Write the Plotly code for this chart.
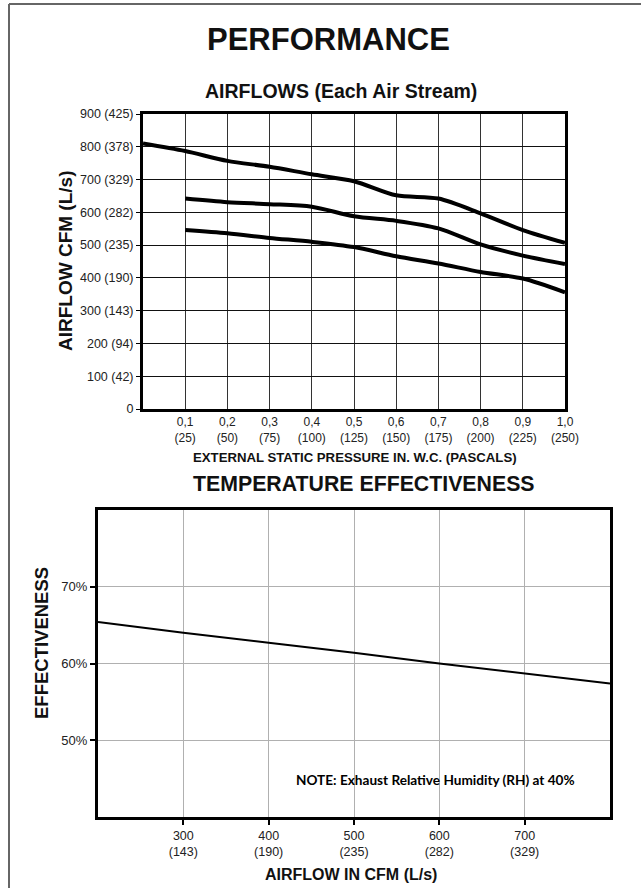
import plotly.graph_objects as go

# ---------------- data ----------------
pressure_all = [0.0, 0.1, 0.2, 0.3, 0.4, 0.5, 0.6, 0.7, 0.8, 0.9, 1.0]
pressure_part = [0.1, 0.2, 0.3, 0.4, 0.5, 0.6, 0.7, 0.8, 0.9, 1.0]
cfm_high = [810, 787, 757, 739, 716, 695, 652, 642, 597, 546, 507]
cfm_mid = [642, 631, 625, 617, 588, 574, 551, 502, 468, 442]
cfm_low = [546, 536, 522, 510, 494, 466, 444, 418, 398, 356]

x_top_ticks = [0.1, 0.2, 0.3, 0.4, 0.5, 0.6, 0.7, 0.8, 0.9, 1.0]
x_top_labels = ["0,1<br>(25)", "0,2<br>(50)", "0,3<br>(75)", "0,4<br>(100)", "0,5<br>(125)",
                "0,6<br>(150)", "0,7<br>(175)", "0,8<br>(200)", "0,9<br>(225)", "1,0<br>(250)"]
y_top_ticks = [0, 100, 200, 300, 400, 500, 600, 700, 800, 900]
y_top_labels = ["0", "100 (42)", "200 (94)", "300 (143)", "400 (190)", "500 (235)",
                "600 (282)", "700 (329)", "800 (378)", "900 (425)"]

airflow = [200, 300, 400, 500, 600, 700, 800]
effectiveness = [65.4, 64.0, 62.7, 61.4, 60.0, 58.7, 57.4]
x_bot_ticks = [300, 400, 500, 600, 700]
x_bot_labels = ["300<br>(143)", "400<br>(190)", "500<br>(235)", "600<br>(282)", "700<br>(329)"]
y_bot_ticks = [50, 60, 70]
y_bot_labels = ["50%", "60%", "70%"]

# ---------------- figure ----------------
W, H = 641, 888
def px(x):
    return x / W
def py(y):
    return 1 - y / H

SANS = "Liberation Sans, Arial, Helvetica, sans-serif"

fig = go.Figure()
line_style = dict(color="black", width=4, shape="spline", smoothing=0.8)
fig.add_trace(go.Scatter(x=pressure_all, y=cfm_high, mode="lines", line=line_style,
                         xaxis="x", yaxis="y", showlegend=False))
fig.add_trace(go.Scatter(x=pressure_part, y=cfm_mid, mode="lines", line=line_style,
                         xaxis="x", yaxis="y", showlegend=False))
fig.add_trace(go.Scatter(x=pressure_part, y=cfm_low, mode="lines", line=line_style,
                         xaxis="x", yaxis="y", showlegend=False))
fig.add_trace(go.Scatter(x=airflow, y=effectiveness, mode="lines",
                         line=dict(color="black", width=2),
                         xaxis="x2", yaxis="y2", showlegend=False))

common = dict(automargin=False, zeroline=False, fixedrange=True,
              showline=True, linecolor="black", linewidth=3, mirror=True)

fig.update_layout(
    width=W, height=H, autosize=False,
    margin=dict(l=0, r=0, t=0, b=0, pad=0, autoexpand=False),
    paper_bgcolor="white", plot_bgcolor="white",
    font=dict(family=SANS, color="#111"),
    xaxis=dict(domain=[px(143), px(565)], range=[0, 1], anchor="y",
               tickvals=x_top_ticks, ticktext=x_top_labels,
               tickfont=dict(size=12, family=SANS, color="#222"),
               showgrid=True, gridcolor="#333", gridwidth=1,
               ticks="", **common),
    yaxis=dict(domain=[py(409), py(114)], range=[0, 900], anchor="x",
               tickvals=y_top_ticks, ticktext=y_top_labels,
               tickfont=dict(size=12.5, family=SANS, color="#222"),
               showgrid=True, gridcolor="#111", gridwidth=1,
               ticks="outside", ticklen=4, tickcolor="black", tickwidth=1, **common),
    xaxis2=dict(domain=[px(98), px(610)], range=[200, 800], anchor="y2",
                tickvals=x_bot_ticks, ticktext=x_bot_labels,
                tickfont=dict(size=12.5, family=SANS, color="#222"),
                showgrid=True, gridcolor="#b0b0b0", gridwidth=1,
                ticks="outside", ticklen=5, tickcolor="black", tickwidth=2, **common),
    yaxis2=dict(domain=[py(817), py(510)], range=[40, 80], anchor="x2",
                tickvals=y_bot_ticks, ticktext=y_bot_labels,
                tickfont=dict(size=13, family=SANS, color="#222"),
                showgrid=True, gridcolor="#b0b0b0", gridwidth=1,
                ticks="outside", ticklen=5, tickcolor="black", tickwidth=2, **common),
)

def text(t, x, y, size, family=SANS, bold=True, angle=0, color="#111"):
    fig.add_annotation(text=("<b>%s</b>" % t) if bold else t,
                       x=px(x), y=py(y), xref="paper", yref="paper",
                       xanchor="center", yanchor="middle", showarrow=False,
                       textangle=angle, font=dict(size=size, family=family, color=color))

text("PERFORMANCE", 328, 40, 31)
text("AIRFLOWS (Each Air Stream)", 341, 91, 19.5)
text("AIRFLOW CFM (L/s)", 66, 261, 19, angle=-90)
text("EXTERNAL STATIC PRESSURE IN. W.C. (PASCALS)", 355, 458, 13.2)
text("TEMPERATURE EFFECTIVENESS", 364, 484, 21.3)
text("EFFECTIVENESS", 41, 643, 18.5, angle=-90)
text("AIRFLOW IN CFM (L/s)", 351, 874, 16)
text("NOTE: Exhaust Relative Humidity (RH) at 40%", 435, 780, 13.6,
     family="Lato, Open Sans, sans-serif", color="black")

# outer page border (top and left edges)
fig.add_shape(type="line", xref="paper", yref="paper",
              x0=px(9), y0=py(4), x1=1.0, y1=py(4), line=dict(color="#666", width=2))
fig.add_shape(type="line", xref="paper", yref="paper",
              x0=px(9), y0=py(4), x1=px(9), y1=0.0, line=dict(color="#666", width=2))

fig.write_html(
    "out.html",
    config={"displayModeBar": False, "responsive": False},
    post_script=("document.documentElement.style.margin='0';"
                 "document.documentElement.style.overflow='hidden';"
                 "document.body.style.margin='0';"
                 "document.body.style.overflow='hidden';"),
)
